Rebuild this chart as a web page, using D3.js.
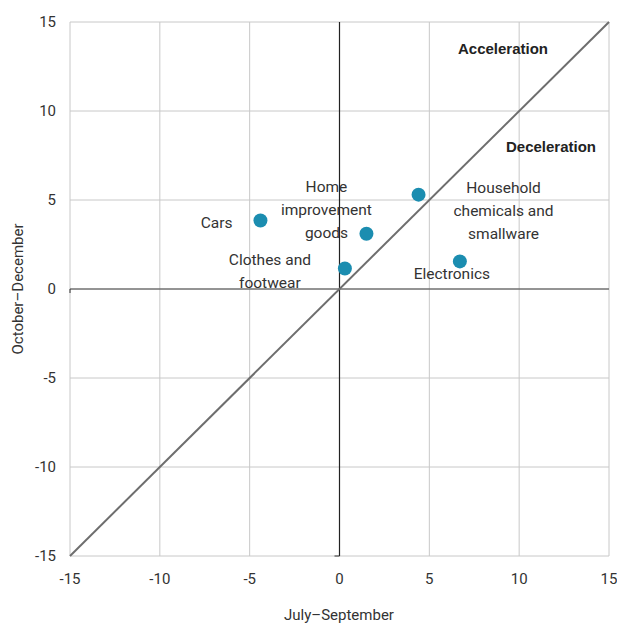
<!DOCTYPE html>
<html><head><meta charset="utf-8">
<script src="https://cdn.jsdelivr.net/npm/d3@7"></script>
<style>body{margin:0;background:#fff;} text{font-family:"Roboto",sans-serif;}</style>
</head><body><svg id="c" width="617" height="626"></svg>
<script>
const categories = ["Cars","Home improvement goods","Household chemicals and smallware","Clothes and footwear","Electronics"];
const julySep = [-4.4, 1.5, 4.4, 0.3, 6.7];
const octDec = [3.85, 3.1, 5.3, 1.15, 1.55];
const labelLines = [["Cars"],["Home","improvement","goods"],["Household","chemicals and","smallware"],["Clothes and","footwear"],["Electronics"]];
const ticks = [-15,-10,-5,0,5,10,15];

const svg = d3.select("#c");
const x = d3.scaleLinear().domain([-15,15]).range([70,609]);
const y = d3.scaleLinear().domain([-15,15]).range([556,22]);

// grid
svg.append("g").selectAll("line").data(ticks).join("line")
  .attr("x1",d=>x(d)).attr("x2",d=>x(d)).attr("y1",y(15)).attr("y2",y(-15))
  .attr("stroke","#c8c8c8").attr("stroke-width",1);
svg.append("g").selectAll("line").data(ticks).join("line")
  .attr("y1",d=>y(d)).attr("y2",d=>y(d)).attr("x1",x(-15)).attr("x2",x(15))
  .attr("stroke","#c8c8c8").attr("stroke-width",1);
// zero axes
svg.append("line").attr("x1",x(0)).attr("x2",x(0)).attr("y1",y(15)).attr("y2",y(-15)).attr("stroke","#222").attr("stroke-width",1.2);
svg.append("line").attr("x1",x(-15)).attr("x2",x(15)).attr("y1",y(0)).attr("y2",y(0)).attr("stroke","#444").attr("stroke-width",1.2);
svg.append("line").attr("x1",x(0)-5).attr("x2",x(0)).attr("y1",y(-15)).attr("y2",y(-15)).attr("stroke","#333");
svg.append("line").attr("x1",x(-15)).attr("x2",x(-15)).attr("y1",y(0)).attr("y2",y(0)+4).attr("stroke","#333");

// tick labels
svg.append("g").selectAll("text").data(ticks).join("text")
  .attr("x",d=>x(d)).attr("y",584).attr("text-anchor","middle")
  .attr("font-size",15).attr("fill","#333").text(d=>d);
svg.append("g").selectAll("text").data(ticks).join("text")
  .attr("x",56).attr("y",d=>y(d)+5).attr("text-anchor","end")
  .attr("font-size",15).attr("fill","#333").text(d=>d);

// diagonal
svg.append("line").attr("x1",x(-15)).attr("y1",y(-15)).attr("x2",x(15)).attr("y2",y(15))
  .attr("stroke","#6e6e6e").attr("stroke-width",2);

// points
svg.append("g").selectAll("circle").data(categories).join("circle")
  .attr("cx",(d,i)=>x(julySep[i])).attr("cy",(d,i)=>y(octDec[i])).attr("r",7)
  .attr("fill","#1b8db0");

// point labels (offsets relative to point)
const offs = [[-28,3,"end"],[-40,-47,"middle"],[85,-7,"middle"],[-75,-9,"middle"],[-8,13,"middle"]];
categories.forEach((c,i)=>{
  const t = svg.append("text").attr("font-size",15.5).attr("fill","#333").attr("text-anchor",offs[i][2]);
  labelLines[i].forEach((l,j)=>{
    t.append("tspan").attr("x",x(julySep[i])+offs[i][0]).attr("y",y(octDec[i])+offs[i][1]+j*23+5).text(l);
  });
});

// region labels
svg.append("text").attr("x",503).attr("y",54).attr("text-anchor","middle").attr("font-size",15)
  .attr("font-weight","bold").style("font-family","'Liberation Sans',Arial,sans-serif").attr("fill","#222").text("Acceleration");
svg.append("text").attr("x",551).attr("y",152).attr("text-anchor","middle").attr("font-size",15)
  .attr("font-weight","bold").style("font-family","'Liberation Sans',Arial,sans-serif").attr("fill","#222").text("Deceleration");

// axis titles
svg.append("text").attr("x",339).attr("y",620).attr("text-anchor","middle").attr("font-size",15).attr("fill","#333").text("July–September");
svg.append("text").attr("transform","translate(23,289) rotate(-90)").attr("text-anchor","middle").attr("font-size",15).attr("fill","#333").text("October–December");
</script></body></html>
